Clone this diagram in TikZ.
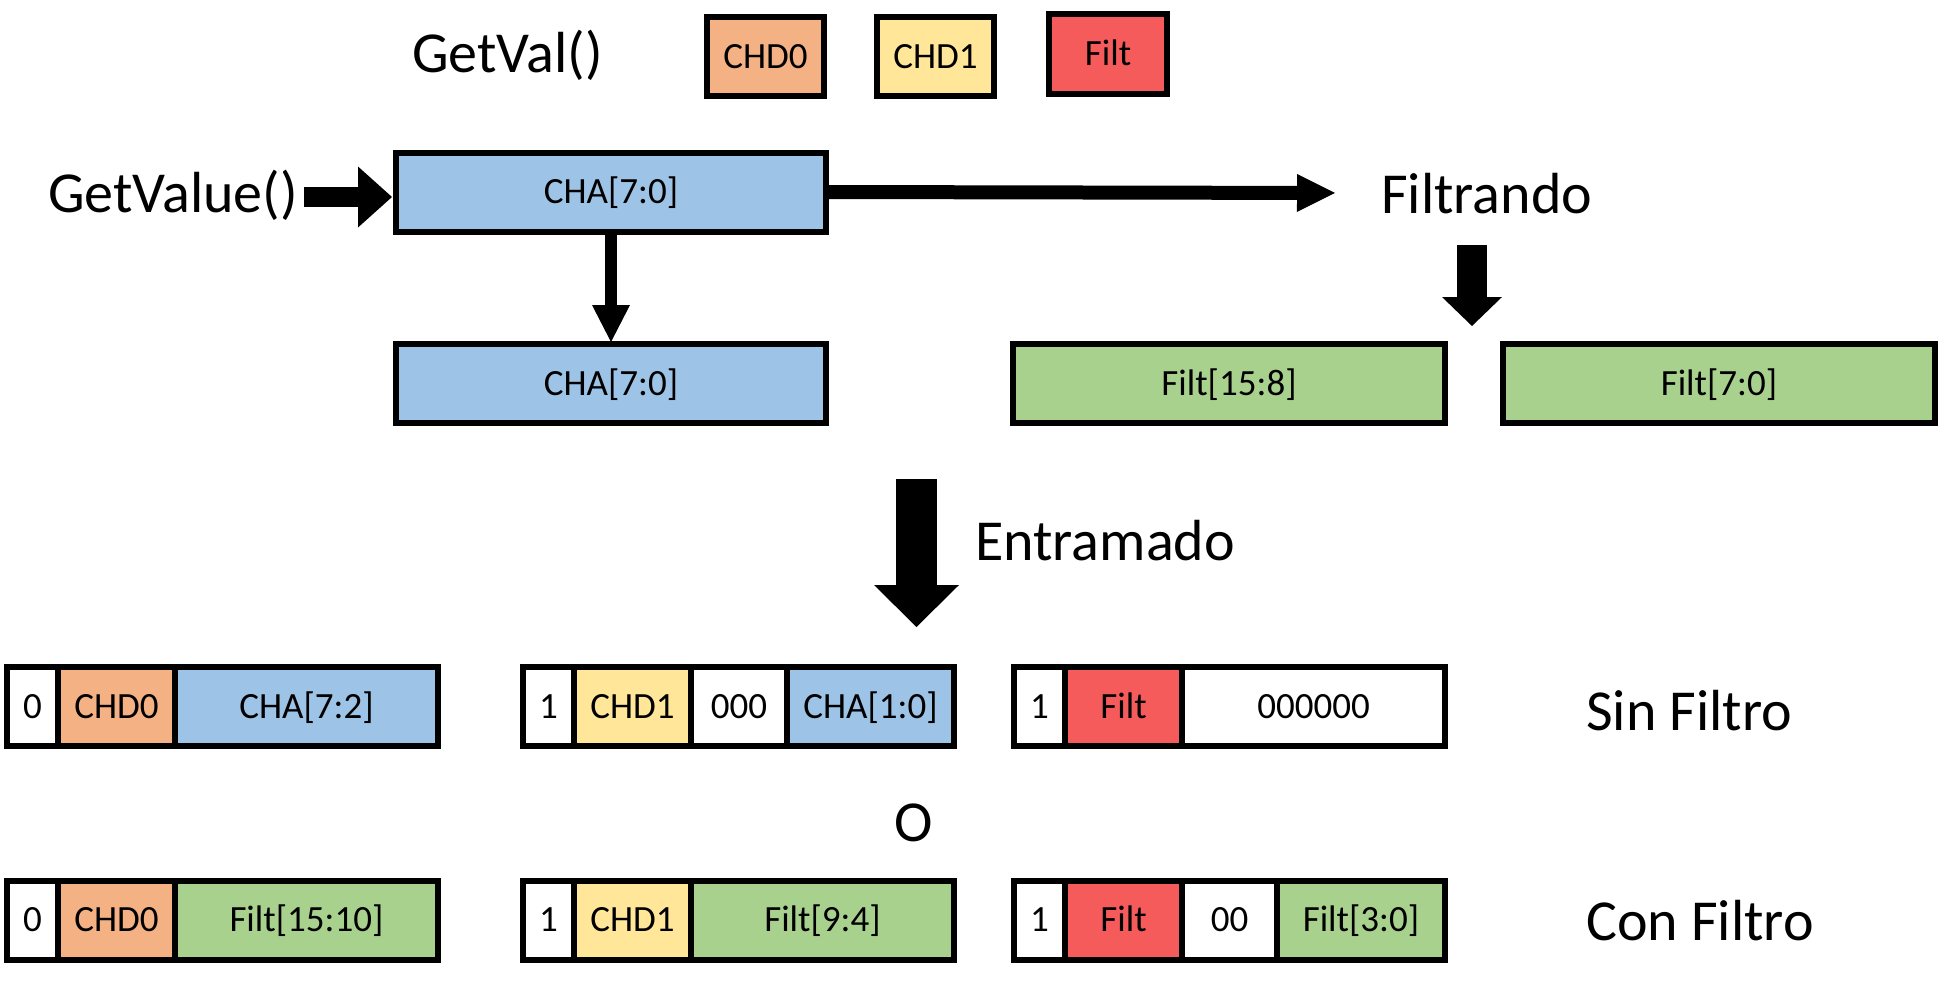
\documentclass[tikz,border=0pt]{standalone}
\usepackage{fontspec}
\setmainfont{Carlito}
\usepackage{tikz}
\usetikzlibrary{arrows.meta, positioning}

\definecolor{chdzero}{HTML}{F4B183}
\definecolor{chdone}{HTML}{FFE699}
\definecolor{filtred}{HTML}{F65B5B}
\definecolor{chablue}{HTML}{9DC3E6}
\definecolor{filtgreen}{HTML}{A9D18E}

\tikzset{
  cell/.style = {draw, fill=white, line width=6pt, minimum width=#1,
    minimum height=79pt, inner sep=0pt, outer sep=0pt,
    font=\fontsize{37}{40}\selectfont, text height=23.4pt, text depth=0pt},
  lbl/.style = {inner sep=0pt, anchor=base west,
    font=\fontsize{58}{64}\selectfont},
  fat/.style n args = {3}{line width=#1,
    -{Triangle[length=#2, width=#3, line width=0pt]}}
}

\begin{document}
\begin{tikzpicture}[x=1pt, y=-1pt]
  \useasboundingbox (0,0) rectangle (1940,990);

  % titulos
  \node[lbl] (getval) at (412,73) {GetVal()};
  \node[lbl] (getvalue) at (48,212) {GetValue()};
  \node[lbl] (filtrando) at (1381,213) {Filtrando};
  \node[lbl] (entramado) at (975,560) {Entramado};
  \node[lbl, anchor=base] (o) at (914,841) {O};
  \node[lbl] (sinfiltro) at (1586,730) {Sin Filtro};
  \node[lbl] (confiltro) at (1586,940) {Con Filtro};

  % leyenda
  \node[cell=117pt, fill=chdzero] (chd0) at (765.5,56.5) {CHD0};
  \node[cell=117pt, fill=chdone] (chd1) at (935.5,56.5) {CHD1};
  \node[cell=118pt, fill=filtred] (filt) at (1108,54) {Filt};

  % canal A y filtro
  \node[cell=430pt, fill=chablue] (chatop) at (611,192) {CHA[7:0]};
  \node[cell=430pt, fill=chablue] (chabot) at (611,383.5) {CHA[7:0]};
  \node[cell=432pt, fill=filtgreen] (filthi) at (1229,383.5) {Filt[15:8]};
  \node[cell=432pt, fill=filtgreen] (filtlo) at (1719,383.5) {Filt[7:0]};

  \coordinate (gvin) at ([yshift=-5pt]chatop.west);
  \draw[fat={20pt}{34pt}{61pt}, shorten <=6pt, shorten >=4pt]
    (getvalue.east |- gvin) -- (gvin);
  \draw[fat={14pt}{38pt}{38pt}, shorten >=46pt] (chatop.east) -- (filtrando.west);
  \draw[fat={12pt}{37pt}{38pt}, shorten >=2pt] (chatop.south) -- (chabot.north);

  \coordinate (filtend) at (1472,326);
  \draw[fat={30pt}{29pt}{60pt}, shorten <=31pt]
    (filtrando.south -| filtend) -- (filtend);

  \coordinate (enttop) at (916.5,479);
  \coordinate (entend) at (916.5,627);
  \draw[fat={41pt}{42pt}{85pt}] (enttop) -- (entend);

  % Sin Filtro
  \node[cell=51pt, anchor=west] (s1b) at (7,706.5) {0};
  \node[cell=117pt, fill=chdzero, right=0pt of s1b] (s1d) {CHD0};
  \node[cell=263pt, fill=chablue, right=0pt of s1d] (s1a) {CHA[7:2]};

  \node[cell=51pt, anchor=west] (s2b) at (523,706.5) {1};
  \node[cell=117pt, fill=chdone, right=0pt of s2b] (s2d) {CHD1};
  \node[cell=96pt, right=0pt of s2d] (s2z) {000};
  \node[cell=167pt, fill=chablue, right=0pt of s2z] (s2a) {CHA[1:0]};

  \node[cell=51pt, anchor=west] (s3b) at (1014,706.5) {1};
  \node[cell=117pt, fill=filtred, right=0pt of s3b] (s3f) {Filt};
  \node[cell=263pt, right=0pt of s3f] (s3z) {000000};

  % Con Filtro
  \node[cell=51pt, anchor=west] (c1b) at (7,920) {0};
  \node[cell=117pt, fill=chdzero, right=0pt of c1b] (c1d) {CHD0};
  \node[cell=263pt, fill=filtgreen, right=0pt of c1d] (c1f) {Filt[15:10]};

  \node[cell=51pt, anchor=west] (c2b) at (523,920) {1};
  \node[cell=117pt, fill=chdone, right=0pt of c2b] (c2d) {CHD1};
  \node[cell=263pt, fill=filtgreen, right=0pt of c2d] (c2f) {Filt[9:4]};

  \node[cell=51pt, anchor=west] (c3b) at (1014,920) {1};
  \node[cell=117pt, fill=filtred, right=0pt of c3b] (c3f) {Filt};
  \node[cell=95pt, right=0pt of c3f] (c3z) {00};
  \node[cell=168pt, fill=filtgreen, right=0pt of c3z] (c3l) {Filt[3:0]};
\end{tikzpicture}
\end{document}
